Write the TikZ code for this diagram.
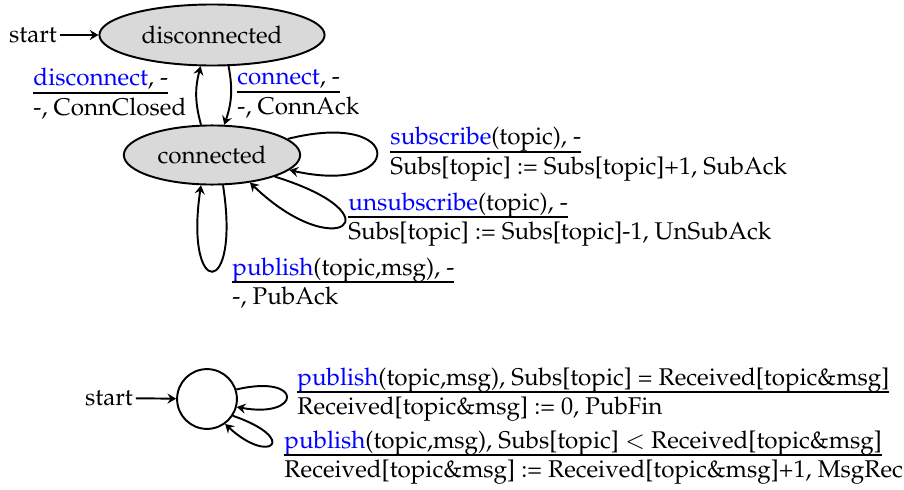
\documentclass[tikz,border=0pt]{standalone}
\usepackage[T1]{fontenc}
\usepackage{mathpazo}
\usetikzlibrary{arrows.meta,shapes.geometric}
\newsavebox\tlbox
\newcommand\ulx[1]{\sbox\tlbox{#1}\usebox\tlbox\llap{\rule[-3.1pt]{\wd\tlbox}{0.45pt}}}
\newcommand\trlab[2]{\begin{tabular}[t]{@{}l@{}}\ulx{#1}\\#2\end{tabular}}
\newcommand\bl[1]{\textcolor{blue}{#1}}
\begin{document}
\begin{tikzpicture}[x=0.413pt,y=-0.413pt,
  st/.style={draw,line width=0.8pt,fill=gray!30,ellipse,inner sep=0pt},
  circst/.style={draw,line width=0.8pt,circle,inner sep=0pt},
  lab/.style={anchor=base west,inner sep=0pt},
  stlab/.style={inner sep=1pt},
  tr/.style={-{Stealth[length=3.6pt,width=4.2pt,inset=1.3pt]},line width=0.8pt}]
\useasboundingbox (0,0) rectangle (904,490);
% top automaton
\node[st,minimum width=93pt,minimum height=25.2pt] (dis) at (212,35) {disconnected};
\node[st,minimum width=72.8pt,minimum height=24.4pt] (con) at (212,155) {connected};
\node[stlab] (s1) at (33,35) {start};
\draw[tr] (s1) -- (dis);
\draw[tr] (con.110) to[bend left=15] (dis.250);
\draw[tr] (dis.298) to[bend left=15] (con.68);
\draw[tr] (con.12) .. controls +(119,-30) and +(116,26) .. (con.-11);
\draw[tr] (con.-19) .. controls +(126,39) and +(86,83) .. (con.-36);
\draw[tr] (con.-70) .. controls +(18,115) and +(-17,114) .. (con.-110);
\node[lab] (l1) at (33,86) {\trlab{\bl{disconnect}, -}{-, ConnClosed}};
\node[lab] (l2) at (237,85) {\trlab{\bl{connect}, -}{-, ConnAck}};
\node[lab] (l3) at (390,145) {\trlab{\bl{subscribe}(topic), -}{Subs[topic] := Subs[topic]+1, SubAck}};
\node[lab] (l4) at (348,210) {\trlab{\bl{unsubscribe}(topic), -}{Subs[topic] := Subs[topic]-1, UnSubAck}};
\node[lab] (l5) at (232,275) {\trlab{\bl{publish}(topic,msg), -}{-, PubAck}};
% bottom automaton
\node[circst,minimum size=24.7pt] (q) at (207,399) {};
\node[stlab] (s2) at (109,398) {start};
\draw[tr] (s2) -- (q);
\draw[tr] (q.18) .. controls +(68,-16) and +(65,12) .. (q.-15);
\draw[tr] (q.-33) .. controls +(67,23) and +(45,42) .. (q.-54);
\node[lab] (l6) at (297,385) {\trlab{\bl{publish}(topic,msg), Subs[topic] = Received[topic\&msg]}{Received[topic\&msg] := 0, PubFin}};
\node[lab] (l7) at (284,448) {\trlab{\bl{publish}(topic,msg), Subs[topic] $<$ Received[topic\&msg]}{Received[topic\&msg] := Received[topic\&msg]+1, MsgRec}};
\end{tikzpicture}
\end{document}
